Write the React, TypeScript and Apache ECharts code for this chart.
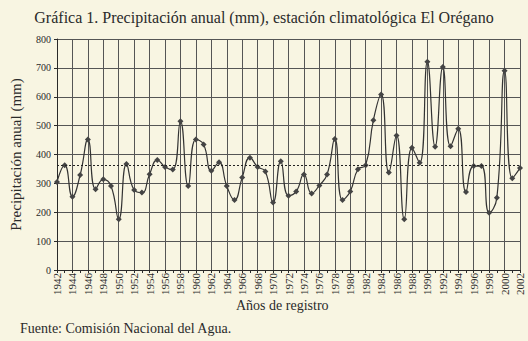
import React, { useEffect, useRef } from "react";
import * as echarts from "echarts";

const years: string[] = [];
for (let y = 1942; y <= 2002; y++) years.push(String(y));

const precip = [
  305, 363, 254, 329, 452, 280, 314, 291, 176, 367,
  277, 268, 332, 381, 357, 348, 515, 291, 452, 435,
  344, 373, 291, 242, 320, 389, 357, 341, 234, 377,
  257, 272, 331, 265, 293, 331, 454, 242, 272, 349,
  363, 519, 608, 338, 466, 176, 423, 371, 721, 427,
  703, 429, 489, 270, 360, 360, 198, 250, 690, 318,
  353,
];

const meanValue = 362;

const yTicks = { min: 0, max: 800, interval: 100 };

const title = "Gráfica 1. Precipitación anual (mm), estación climatológica El Orégano";
const source = "Fuente: Comisión Nacional del Agua.";
const xName = "Años de registro";
const yName = "Precipitación anual (mm)";

const FONT = "'Liberation Serif', 'DejaVu Serif', serif";
const INK = "#2a2a2a";

export default function App() {
  const ref = useRef<HTMLDivElement>(null);
  useEffect(() => {
    const chart = echarts.init(ref.current!, null, { renderer: "svg" });
    chart.setOption({
      animation: false,
      backgroundColor: "#f8f5e2",
      textStyle: { fontFamily: FONT, color: INK },
      title: [
        {
          text: title,
          left: "center",
          top: 4,
          textStyle: { fontFamily: FONT, fontSize: 16, fontWeight: "normal", color: INK },
        },
      ],
      graphic: [
        {
          type: "text",
          left: 20,
          top: 321,
          style: { text: source, font: `14px ${FONT}`, fill: INK },
        },
        {
          type: "text",
          left: 236,
          top: 298,
          style: { text: xName, font: `14px ${FONT}`, fill: INK },
        },
      ],
      grid: { left: 57, right: 8, top: 39, bottom: 71, containLabel: false },
      xAxis: {
        type: "category",
        data: years,
        boundaryGap: false,
        axisLine: { show: true, lineStyle: { color: INK, width: 1 } },
        axisTick: { show: true, interval: 0, length: 3, inside: false, lineStyle: { color: INK } },
        axisLabel: {
          interval: 1,
          rotate: 90,
          fontSize: 11,
          fontFamily: FONT,
          color: INK,
          margin: 3,
        },
        splitLine: { show: true, interval: 1, lineStyle: { color: "#555", width: 1 } },
      },
      yAxis: {
        type: "value",
        min: yTicks.min,
        max: yTicks.max,
        interval: yTicks.interval,
        name: yName,
        nameLocation: "middle",
        nameGap: 34,
        nameTextStyle: { fontFamily: FONT, fontSize: 15, color: INK },
        axisLine: { show: true, lineStyle: { color: INK } },
        axisTick: { show: true, length: 3, lineStyle: { color: INK } },
        axisLabel: { fontSize: 10, fontFamily: FONT, color: INK, margin: 6 },
        splitLine: { show: true, lineStyle: { color: "#555", width: 1 } },
      },
      series: [
        {
          type: "line",
          data: precip,
          smooth: 0.5,
          showAllSymbol: true,
          symbol: "diamond",
          symbolSize: 6,
          lineStyle: { color: "#333", width: 1.2 },
          itemStyle: { color: "#444" },
          markLine: {
            silent: true,
            symbol: "none",
            label: { show: false },
            lineStyle: { color: "#222", type: [2, 2], width: 1 },
            data: [{ yAxis: meanValue }],
          },
        },
      ],
    });
    return () => chart.dispose();
  }, []);
  return (
    <div
      ref={ref}
      style={{ position: "fixed", left: 0, top: 0, width: 528, height: 341 }}
    />
  );
}
